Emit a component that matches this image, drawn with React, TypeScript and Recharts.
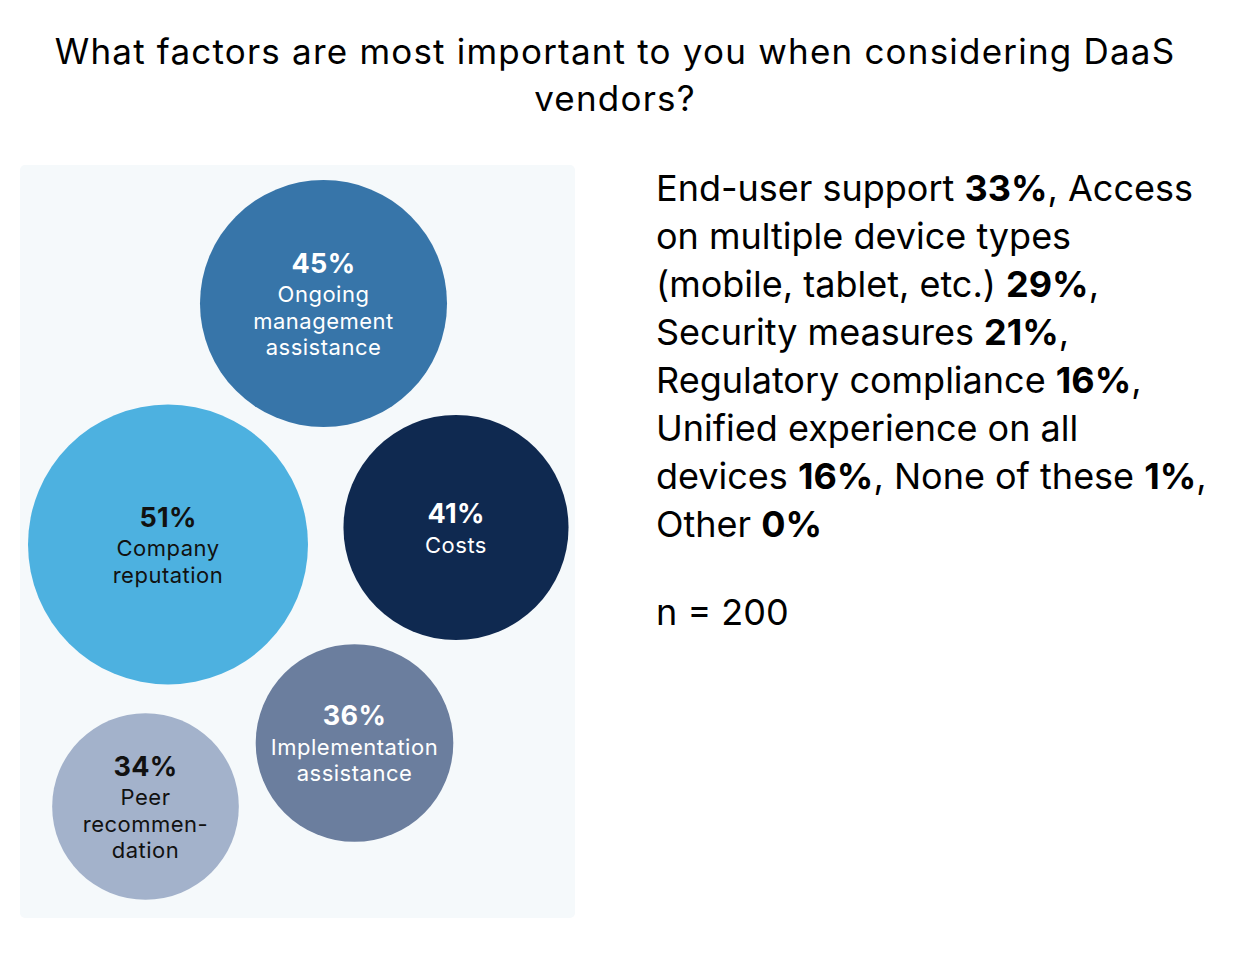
import { Scatter, ScatterChart, XAxis, YAxis, ZAxis } from 'recharts';

// bubble chart data
const factorLabels = [
  ['Ongoing', 'management', 'assistance'],
  ['Company', 'reputation'],
  ['Costs'],
  ['Implementation', 'assistance'],
  ['Peer', 'recommen-', 'dation'],
];
const factorValues = [45, 51, 41, 36, 34];
// layout position of each bubble inside the panel (panel units)
const bubbleX = [303.5, 148, 436, 334.5, 125.5];
const bubbleY = [138.5, 379.5, 362.5, 578, 641.5];
const bubbleColors = ['#3775a9', '#4db1e0', '#0f2950', '#6b7e9e', '#a3b2cb'];
const textColors = ['#ffffff', '#111111', '#ffffff', '#ffffff', '#111111'];

// remaining answers shown as text
const otherLines: Array<Array<[string, boolean]>> = [
  [['End-user support ', false], ['33%', true], [', Access', false]],
  [['on multiple device types', false]],
  [['(mobile, tablet, etc.) ', false], ['29%', true], [',', false]],
  [['Security measures ', false], ['21%', true], [',', false]],
  [['Regulatory compliance ', false], ['16%', true], [',', false]],
  [['Unified experience on all', false]],
  [['devices ', false], ['16%', true], [', None of these ', false], ['1%', true], [',', false]],
  [['Other ', false], ['0%', true]],
];

const TITLE_LINES = ['What factors are most important to you when considering DaaS', 'vendors?'];
const SAMPLE = 'n = 200';

const PANEL_W = 555;
const PANEL_H = 753;
const FONT = 'Inter, "Noto Sans", sans-serif';

const data = factorValues.map((value, i) => ({
  x: bubbleX[i],
  y: bubbleY[i],
  area: value * value,
  value,
  lines: factorLabels[i],
  fill: bubbleColors[i],
  color: textColors[i],
}));

function Bubble(props: any) {
  const { cx, cy, payload } = props;
  const r = props.width != null ? props.width / 2 : Math.sqrt((props.size ?? 0) / Math.PI);
  const lines: string[] = payload.lines;
  const y0 = cy + 1.5 - (31 + 26.5 * (lines.length - 1)) / 2;
  return (
    <g>
      <circle cx={cx} cy={cy} r={r} fill={payload.fill} />
      <text
        x={cx}
        y={y0}
        textAnchor="middle"
        dominantBaseline="central"
        fill={payload.color}
        fontFamily={FONT}
        fontWeight={700}
        fontSize={27}
        letterSpacing={0.3}
      >
        {payload.value}%
      </text>
      {lines.map((line, i) => (
        <text
          key={line}
          x={cx}
          y={y0 + 31 + 26.5 * i}
          textAnchor="middle"
          dominantBaseline="central"
          fill={payload.color}
          fontFamily={FONT}
          fontSize={22}
          letterSpacing={0.5}
        >
          {line}
        </text>
      ))}
    </g>
  );
}

export default function App() {
  const k = 274.5; // radius for 100%
  return (
    <div style={{ position: 'absolute', left: 0, top: 0, width: 1242, height: 962, background: '#fff', fontFamily: FONT, color: '#000' }}>
      <div
        style={{
          position: 'absolute',
          left: 0,
          top: 28,
          width: 1230,
          textAlign: 'center',
          fontSize: 35,
          letterSpacing: 1.2,
          lineHeight: '47px',
          whiteSpace: 'nowrap',
        }}
      >
        {TITLE_LINES.map((t) => (
          <div key={t}>{t}</div>
        ))}
      </div>
      <div
        style={{
          position: 'absolute',
          left: 20,
          top: 165,
          width: PANEL_W,
          height: PANEL_H,
          background: '#f5f9fb',
          borderRadius: 5,
        }}
      >
        <ScatterChart width={PANEL_W} height={PANEL_H} margin={{ top: 0, right: 0, bottom: 0, left: 0 }}>
          <XAxis type="number" dataKey="x" domain={[0, PANEL_W]} hide />
          <YAxis type="number" dataKey="y" domain={[0, PANEL_H]} reversed hide />
          <ZAxis type="number" dataKey="area" domain={[0, 10000]} range={[0, Math.PI * k * k]} />
          <Scatter data={data} shape={<Bubble />} isAnimationActive={false} />
        </ScatterChart>
      </div>
      <div style={{ position: 'absolute', left: 656, top: 164, fontSize: 36, lineHeight: '48px', whiteSpace: 'nowrap' }}>
        {otherLines.map((line, i) => (
          <div key={i}>
            {line.map(([t, bold], j) => (
              <span key={j} style={{ fontWeight: bold ? 700 : 400 }}>
                {t}
              </span>
            ))}
          </div>
        ))}
        <div style={{ marginTop: 40 }}>{SAMPLE}</div>
      </div>
    </div>
  );
}
